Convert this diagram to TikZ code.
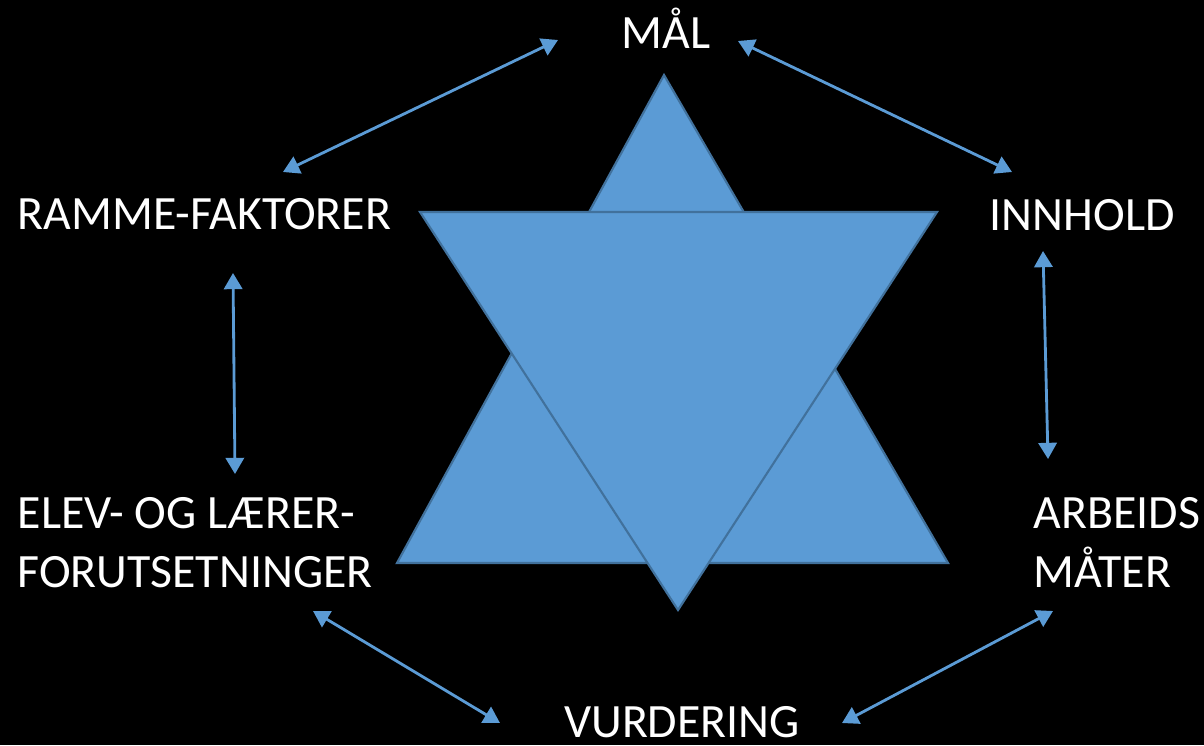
\documentclass[tikz,border=0pt]{standalone}
\usepackage{fontspec}
\setmainfont{Carlito}
\usepackage{xcolor}
\definecolor{starblue}{RGB}{91,155,213}
\definecolor{staredge}{RGB}{65,113,156}
\usetikzlibrary{arrows.meta}

\begin{document}
\begin{tikzpicture}[
    x=0.01cm, y=-0.01cm,
    lbl/.style={text=white, inner sep=0pt, font=\fontsize{13.6}{16.5}\selectfont},
    link/.style={draw=starblue, line width=0.8pt, {Triangle[length=4.6pt,width=5.2pt]}-{Triangle[length=4.6pt,width=5.2pt]}}
  ]

  %% --- Background ---
  \fill[black] (0,0) rectangle (1204,745);
  \useasboundingbox (0,0) rectangle (1204,745);

  %% --- Star ---
  \draw[fill=starblue, draw=staredge, line width=0.6pt, line join=miter]
    (664,75) -- (948,563) -- (397,563) -- cycle;
  \draw[fill=starblue, draw=staredge, line width=0.6pt, line join=miter]
    (420,212) -- (937,212) -- (678,610) -- cycle;

  %% --- Labels ---
  \node[lbl, anchor=base] (maal) at (666,48) {MÅL};
  \node[lbl, anchor=base west] (ramme) at (17,229) {RAMME-FAKTORER};
  \node[lbl, anchor=base west] (innhold) at (989,230) {INNHOLD};
  \node[lbl, anchor=base west, align=left] (elev) at (17,587)
    {ELEV- OG LÆRER-\\FORUTSETNINGER};
  \node[lbl, anchor=base west, align=left] (arbeid) at (1033,587)
    {ARBEIDS\\MÅTER};
  \node[lbl, anchor=base] (vurd) at (682,737) {VURDERING};

  %% --- Arrow ends ---
  \coordinate (maalL) at (558,40);
  \coordinate (maalR) at (738,41);
  \coordinate (rammeT) at (283,172);
  \coordinate (rammeB) at (233,273);
  \coordinate (innholdT) at (1012,172);
  \coordinate (innholdB) at (1043,251);
  \coordinate (elevT) at (235,474);
  \coordinate (elevB) at (313,611);
  \coordinate (arbeidT) at (1048,459);
  \coordinate (arbeidB) at (1053,611);
  \coordinate (vurdL) at (500,723);
  \coordinate (vurdR) at (842,723);

  %% --- Connections ---
  \draw[link] (maalL) -- (rammeT);
  \draw[link] (maalR) -- (innholdT);
  \draw[link] (rammeB) -- (elevT);
  \draw[link] (innholdB) -- (arbeidT);
  \draw[link] (elevB) -- (vurdL);
  \draw[link] (arbeidB) -- (vurdR);
\end{tikzpicture}
\end{document}
